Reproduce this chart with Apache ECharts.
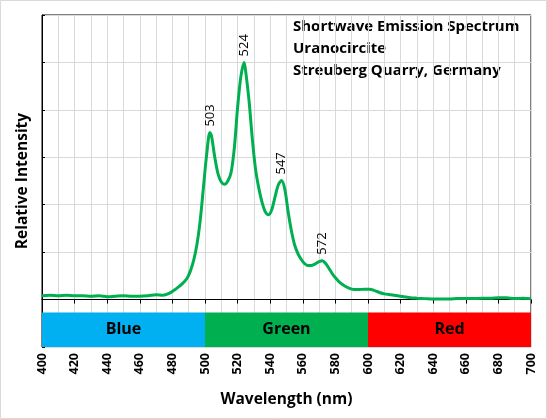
<!DOCTYPE html>
<html>
<head>
<meta charset="utf-8">
<script src="https://cdn.jsdelivr.net/npm/echarts/dist/echarts.min.js"></script>
<style>
  html, body { margin: 0; padding: 0; background: #fff; }
  #chart { width: 547px; height: 419px; }
</style>
</head>
<body>
<div id="chart"></div>
<script>
// wavelength (nm) and relative intensity
const wavelengths = [400, 405, 410, 415, 420, 425, 430, 435, 440, 445, 450, 455, 460, 465, 470, 474, 478, 482, 486, 489,
  491, 493, 495, 497, 499, 501, 503, 504, 506, 508, 510, 512, 514, 516, 518, 520, 522, 524, 525, 527,
  529, 531, 533, 535, 537, 539, 541, 543, 545, 547, 549, 551, 553, 555, 557, 559, 561, 563, 565, 568,
  570, 572, 574, 576, 578, 580, 583, 586, 590, 594, 598, 601, 604, 607, 610, 614, 618, 622, 626, 630,
  635, 640, 645, 650, 655, 660, 665, 670, 675, 680, 685, 690, 695, 700];
const intensity = [0.08, 0.09, 0.08, 0.09, 0.08, 0.08, 0.07, 0.08, 0.06, 0.07, 0.08, 0.07, 0.07, 0.08, 0.10, 0.09, 0.13, 0.22, 0.33, 0.45,
  0.60, 0.82, 1.15, 1.65, 2.35, 3.05, 3.52, 3.45, 3.00, 2.65, 2.48, 2.43, 2.50, 2.68, 3.20, 4.05, 4.70, 5.00, 4.80, 4.20,
  3.40, 2.75, 2.35, 2.05, 1.85, 1.79, 1.90, 2.17, 2.42, 2.51, 2.32, 1.85, 1.45, 1.15, 0.97, 0.85, 0.76, 0.72, 0.72, 0.76,
  0.80, 0.82, 0.76, 0.66, 0.55, 0.46, 0.35, 0.28, 0.22, 0.21, 0.22, 0.22, 0.19, 0.15, 0.12, 0.10, 0.08, 0.06, 0.04, 0.03,
  0.02, 0.01, 0.01, 0.01, 0.02, 0.02, 0.02, 0.03, 0.03, 0.04, 0.04, 0.02, 0.03, 0.02];

const peaks = [503, 524, 547, 572];

const bandNames = ["Blue", "Green", "Red"];
const bandStarts = [400, 500, 600];
const bandEnds = [500, 600, 700];
const bandColors = ["#00b0f0", "#00b050", "#ff0000"];

const titleLines = ["Shortwave Emission Spectrum", "Uranocircite", "Streuberg Quarry, Germany"];

const FONT = "'Open Sans', sans-serif";

const chart = echarts.init(document.getElementById("chart"));

const lineData = wavelengths.map((w, i) => [w, intensity[i]]);

const peakPoints = peaks.map((p) => {
  const i = wavelengths.indexOf(p);
  return { coord: [p, intensity[i]], value: String(p) };
});

const bands = bandNames.map((name, i) => [
  {
    name: name,
    xAxis: bandStarts[i],
    yAxis: -1,
    itemStyle: { color: bandColors[i] },
  },
  { xAxis: bandEnds[i], yAxis: -0.27 },
]);

const option = {
  animation: false,
  grid: {
    left: 42,
    right: 16,
    top: 15,
    bottom: 72,
    show: true,
    borderColor: "#000",
    borderWidth: 1,
  },
  graphic: [
    {
      type: "rect",
      shape: { x: 0.5, y: 0.5, width: 546, height: 418 },
      style: { fill: null, stroke: "#d9d9d9", lineWidth: 1 },
    },
    {
      type: "text",
      left: 293,
      top: 16,
      style: {
        text: titleLines.join("\n"),
        font: "bold 15px " + FONT,
        lineHeight: 22,
        fill: "#000",
      },
    },
  ],
  xAxis: {
    type: "value",
    min: 400,
    max: 700,
    interval: 20,
    name: "Wavelength (nm)",
    nameLocation: "middle",
    nameGap: 45,
    nameTextStyle: { fontFamily: FONT, fontWeight: "bold", fontSize: 15.5, color: "#000" },
    axisLine: { show: true, lineStyle: { color: "#000", width: 1 } },
    axisTick: { show: true, length: 4, lineStyle: { color: "#000" } },
    axisLabel: {
      rotate: 90,
      fontFamily: FONT,
      fontWeight: "bold",
      fontSize: 12.5,
      color: "#000",
      margin: 6,
    },
    splitLine: { show: true, lineStyle: { color: "#d9d9d9", width: 1 } },
    minorTick: { show: false, splitNumber: 2 },
    minorSplitLine: { show: true, lineStyle: { color: "#d9d9d9", width: 1 } },
  },
  yAxis: {
    type: "value",
    min: -1,
    max: 6,
    interval: 1,
    name: "Relative Intensity",
    nameLocation: "middle",
    nameGap: 11,
    nameTextStyle: { fontFamily: FONT, fontWeight: "bold", fontSize: 15.5, color: "#000" },
    axisLine: { show: true, lineStyle: { color: "#000", width: 1 } },
    axisTick: { show: true, inside: true, length: 3, lineStyle: { color: "#000" } },
    axisLabel: { show: false },
    splitLine: { show: true, lineStyle: { color: "#d9d9d9", width: 1 } },
  },
  series: [
    {
      type: "line",
      data: lineData,
      smooth: 0.3,
      showSymbol: false,
      lineStyle: { color: "#00b050", width: 3 },
      itemStyle: { color: "#00b050" },
      z: 3,
      markArea: {
        silent: true,
        label: {
          show: true,
          position: "inside",
          fontFamily: FONT,
          fontWeight: "bold",
          fontSize: 16,
          color: "#000",
        },
        data: bands,
      },
      markPoint: {
        symbol: "circle",
        symbolSize: 0,
        silent: true,
        label: {
          show: true,
          position: "top",
          distance: 6,
          rotate: 90,
          align: "left",
          verticalAlign: "middle",
          fontFamily: FONT,
          fontSize: 13,
          color: "#000",
          formatter: (p) => p.value,
        },
        data: peakPoints,
      },
    },
  ],
};

chart.setOption(option);
</script>
</body>
</html>
